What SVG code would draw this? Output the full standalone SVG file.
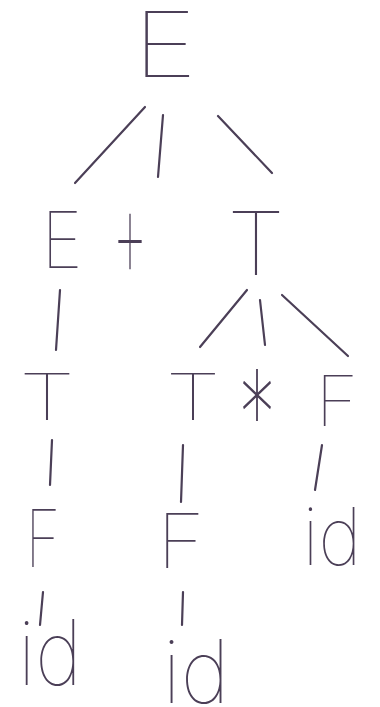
<svg xmlns="http://www.w3.org/2000/svg" width="380" height="707" viewBox="0 0 380 707">
<style>
.t{font-family:Inter,"Liberation Sans",sans-serif;font-weight:100;fill:#4b3f57;text-anchor:middle}
.c line{stroke:#4b3f57;stroke-width:2.2;stroke-linecap:round;fill:none}
</style>
<rect width="380" height="707" fill="#ffffff"/>
<g class="c" id="connectors">
<line x1="145" y1="107" x2="75" y2="183"/>
<line x1="163" y1="115" x2="158" y2="177"/>
<line x1="218" y1="116" x2="272" y2="173"/>
<line x1="60" y1="290" x2="56" y2="350"/>
<line x1="247" y1="290" x2="200" y2="347"/>
<line x1="260" y1="300" x2="265" y2="345"/>
<line x1="282" y1="295" x2="348" y2="356"/>
<line x1="52" y1="440" x2="50" y2="485"/>
<line x1="183" y1="445" x2="181" y2="502"/>
<line x1="322" y1="445" x2="315" y2="490"/>
<line x1="43" y1="592" x2="40" y2="625"/>
<line x1="183" y1="592" x2="182" y2="625"/>
</g>
<g id="E_root"><text class="t" x="165" y="77" font-size="90" textLength="64" lengthAdjust="spacingAndGlyphs">E</text></g>
<g id="E_left"><text class="t" x="62" y="268" font-size="78" textLength="41" lengthAdjust="spacingAndGlyphs">E</text></g>
<g id="plus"><text class="t" x="130" y="280" font-size="135" textLength="36" lengthAdjust="spacingAndGlyphs">+</text></g>
<g id="T_right"><text class="t" x="256" y="275" font-size="88" textLength="58" lengthAdjust="spacingAndGlyphs">T</text></g>
<g id="T_a"><text class="t" x="47" y="420" font-size="64" textLength="56" lengthAdjust="spacingAndGlyphs">T</text></g>
<g id="T_b"><text class="t" x="193" y="420" font-size="64" textLength="55" lengthAdjust="spacingAndGlyphs">T</text></g>
<g id="star"><text class="t" x="257" y="461" font-size="127" textLength="38" lengthAdjust="spacingAndGlyphs">*</text></g>
<g id="F_right"><text class="t" x="337" y="426" font-size="70" textLength="43" lengthAdjust="spacingAndGlyphs">F</text></g>
<g id="F_a"><text class="t" x="43" y="567" font-size="80" textLength="35" lengthAdjust="spacingAndGlyphs">F</text></g>
<g id="F_b"><text class="t" x="181" y="568" font-size="76" textLength="48" lengthAdjust="spacingAndGlyphs">F</text></g>
<g id="id_right"><text class="t" x="332" y="565" font-size="80" textLength="59" lengthAdjust="spacingAndGlyphs">id</text></g>
<g id="id_a"><text class="t" x="50" y="685" font-size="90" textLength="64" lengthAdjust="spacingAndGlyphs">id</text></g>
<g id="id_b"><text class="t" x="196" y="703" font-size="88" textLength="67" lengthAdjust="spacingAndGlyphs">id</text></g>
</svg>
